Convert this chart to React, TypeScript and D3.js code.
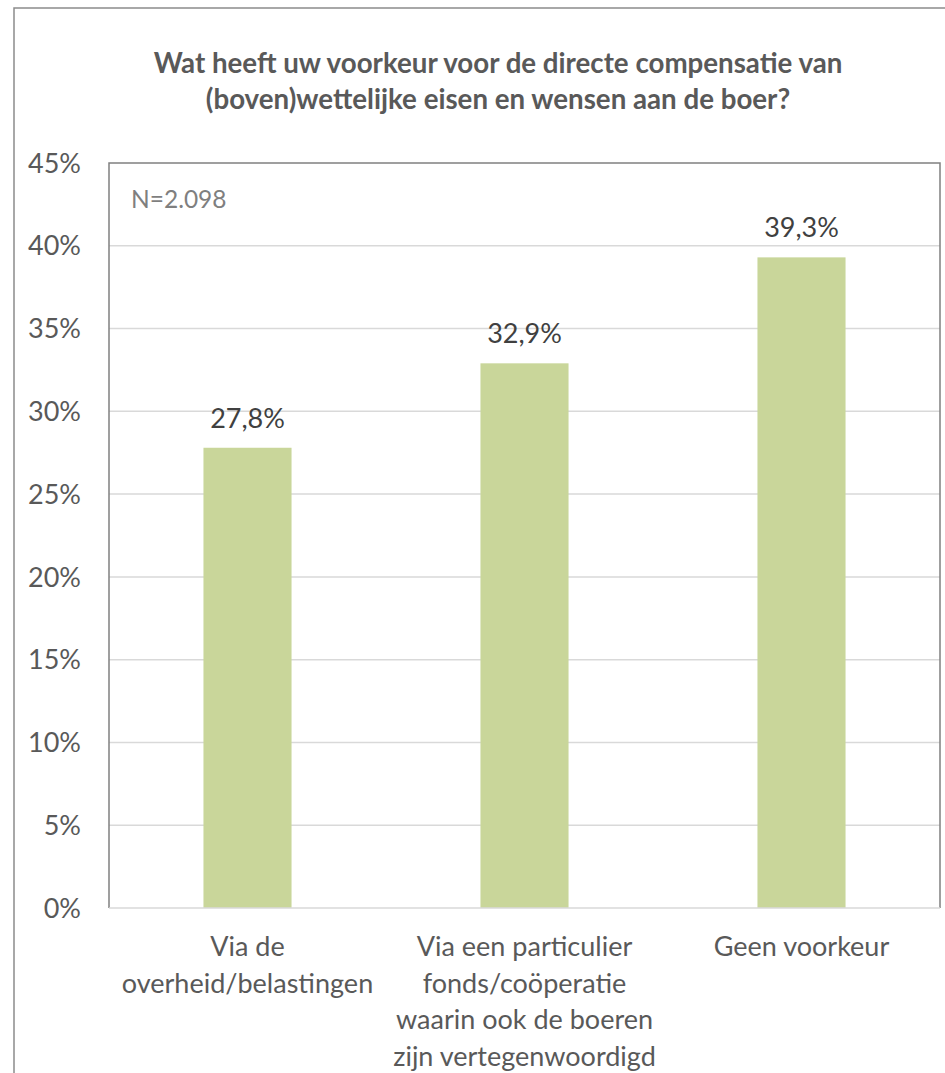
import React from "react";
import * as d3 from "d3";

const categories: string[][] = [
  ["Via de", "overheid/belastingen"],
  ["Via een particulier", "fonds/coöperatie", "waarin ook de boeren", "zijn vertegenwoordigd"],
  ["Geen voorkeur"],
];
const values: number[] = [27.8, 32.9, 39.3];
const valueLabels: string[] = ["27,8%", "32,9%", "39,3%"];
const yTicks: number[] = [0, 5, 10, 15, 20, 25, 30, 35, 40, 45];
const titleLines: string[] = [
  "Wat heeft uw voorkeur voor de directe compensatie van",
  "(boven)wettelijke eisen en wensen aan de boer?",
];
const note = "N=2.098";

const W = 945;
const H = 1073;
const plot = { left: 109, right: 940, top: 163, bottom: 908 };
const FONT = "Lato, 'Open Sans', sans-serif";

export default function App() {
  const x = d3
    .scaleBand<number>()
    .domain(values.map((_, i) => i))
    .range([plot.left, plot.right])
    .paddingInner(0.682)
    .paddingOuter(0.341);
  const y = d3.scaleLinear().domain([0, 45]).range([plot.bottom, plot.top]);

  return (
    <svg
      width={W}
      height={H}
      style={{ position: "absolute", left: 0, top: 0, background: "#fff" }}
      fontFamily={FONT}
    >
      <rect x={0} y={0} width={W} height={H} fill="#fff" />
      {/* outer frame */}
      <rect x={14} y={8} width={966} height={1120} fill="none" stroke="#8c8c8c" strokeWidth={1.5} />
      {/* title */}
      {titleLines.map((t, i) => (
        <text
          key={i}
          x={498}
          y={73 + i * 35.5}
          textAnchor="middle"
          fontSize={27.7}
          fontWeight="bold"
          fill="#595959"
        >
          {t}
        </text>
      ))}
      {/* gridlines */}
      {yTicks.filter((t) => t > 0 && t < 45).map((t) => (
        <line key={t} x1={plot.left} x2={plot.right} y1={y(t)} y2={y(t)} stroke="#d9d9d9" strokeWidth={1.5} />
      ))}
      {/* plot area border */}
      <path
        d={`M${plot.left},${plot.bottom}V${plot.top}H${plot.right}V${plot.bottom}`}
        fill="none"
        stroke="#808080"
        strokeWidth={1.5}
      />
      {/* bars */}
      {values.map((v, i) => (
        <rect
          key={i}
          x={x(i)!}
          y={y(v)}
          width={x.bandwidth()}
          height={y(0) - y(v)}
          fill="#c9d69a"
        />
      ))}
      {/* axis baseline */}
      <line x1={plot.left} x2={plot.right} y1={y(0)} y2={y(0)} stroke="#d9d9d9" strokeWidth={1.5} />
      {/* value labels */}
      {values.map((v, i) => (
        <text
          key={i}
          x={x(i)! + x.bandwidth() / 2}
          y={y(v) - 20}
          textAnchor="middle"
          fontSize={27}
          fill="#404040"
        >
          {valueLabels[i]}
        </text>
      ))}
      {/* y tick labels */}
      {yTicks.map((t) => (
        <text
          key={t}
          x={81}
          y={y(t)}
          dy="0.36em"
          textAnchor="end"
          fontSize={27}
          fill="#595959"
        >
          {`${t}%`}
        </text>
      ))}
      {/* category labels */}
      {categories.map((lines, i) => (
        <text
          key={i}
          x={x(i)! + x.bandwidth() / 2}
          textAnchor="middle"
          fontSize={27}
          fill="#595959"
        >
          {lines.map((l, j) => (
            <tspan key={j} x={x(i)! + x.bandwidth() / 2} y={956 + j * 36.5}>
              {l}
            </tspan>
          ))}
        </text>
      ))}
      {/* note */}
      <text x={131} y={208} fontSize={24.5} fill="#7f7f7f">
        {note}
      </text>
    </svg>
  );
}
